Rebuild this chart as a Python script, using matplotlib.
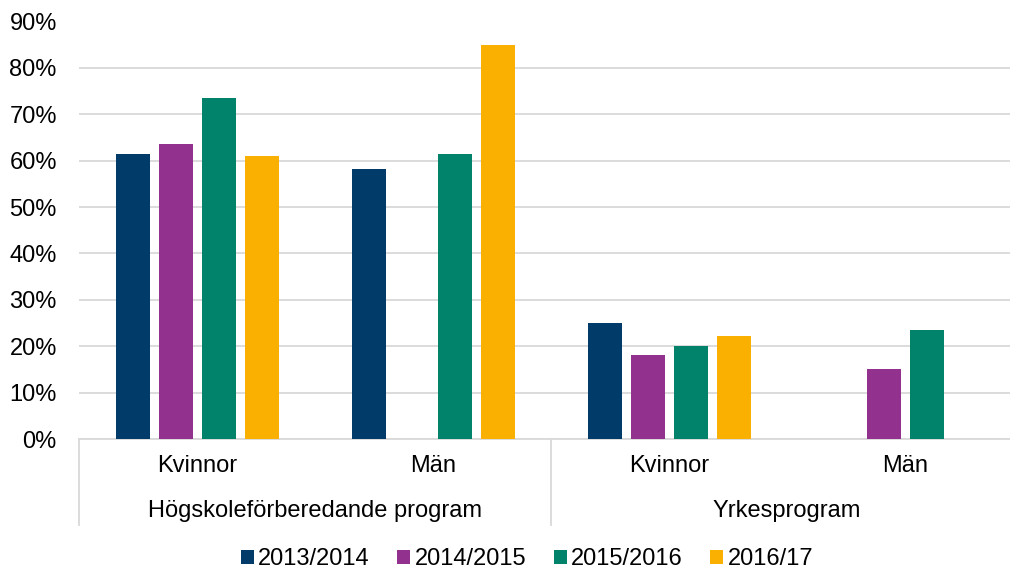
import matplotlib.pyplot as plt
import numpy as np

plt.rcParams['font.family'] = ['Liberation Sans', 'DejaVu Sans']

# data (share, 0-1), NaN = no bar
categories = ['Kvinnor', 'Män', 'Kvinnor', 'Män']
groups = ['Högskoleförberedande program', 'Yrkesprogram']
series = ['2013/2014', '2014/2015', '2015/2016', '2016/17']
v2013 = [0.614, 0.583, 0.249, np.nan]
v2014 = [0.636, np.nan, 0.181, 0.150]
v2015 = [0.736, 0.614, 0.200, 0.235]
v2016 = [0.610, 0.849, 0.222, np.nan]
colors = ['#003B69', '#93328E', '#00836A', '#F9B000']

W, H = 1010, 569
fs = 17
fig = plt.figure(figsize=(W / 100, H / 100), dpi=100)
# axis runs a bit past the right edge of the picture, like the original
ax = fig.add_axes([79 / W, (H - 439) / H, (1023 - 79) / W, (439 - 21.5) / H])

x = np.arange(len(categories))
step = 43 / 236
width = 34 / 236
for i, (vals, c, lab) in enumerate(zip([v2013, v2014, v2015, v2016], colors, series)):
    ax.bar(x + (i - 1.5) * step, vals, width, color=c, label=lab, zorder=3)

ax.set_xlim(-0.5, 3.5)
ax.set_ylim(0, 0.9)
ax.set_yticks(np.arange(0, 0.91, 0.1))
ax.set_yticklabels([f'{int(round(t * 100))}%' for t in np.arange(0, 0.91, 0.1)])
ax.yaxis.grid(True, color='#D9D9D9', linewidth=1.3, zorder=0)
ax.tick_params(axis='y', length=0, pad=16, labelsize=fs)
ax.set_xticks([])
for s in ['top', 'right', 'left']:
    ax.spines[s].set_visible(False)
ax.spines['bottom'].set_color('#D9D9D9')
ax.spines['bottom'].set_linewidth(1.3)

tr = ax.get_xaxis_transform()
axh = 439 - 21.5
for xi, cat in zip(x, categories):
    ax.text(xi, (439 - 466) / axh, cat, transform=tr, ha='center', va='center', fontsize=fs)
for gi, g in enumerate(groups):
    ax.text(gi * 2 + 0.5, (439 - 511) / axh, g, transform=tr, ha='center', va='center', fontsize=fs)
for xs in [-0.5, 1.5, 3.5]:
    ax.plot([xs, xs], [0, (439 - 525) / axh], transform=tr, color='#D9D9D9', lw=1.3, clip_on=False)

fig.legend(loc='center', bbox_to_anchor=(527 / W, (H - 559) / H), ncol=4, frameon=False,
           fontsize=fs, handlelength=0.55, handleheight=0.55, handletextpad=0.2, columnspacing=1.15)

fig.savefig('out.png', dpi=100)
